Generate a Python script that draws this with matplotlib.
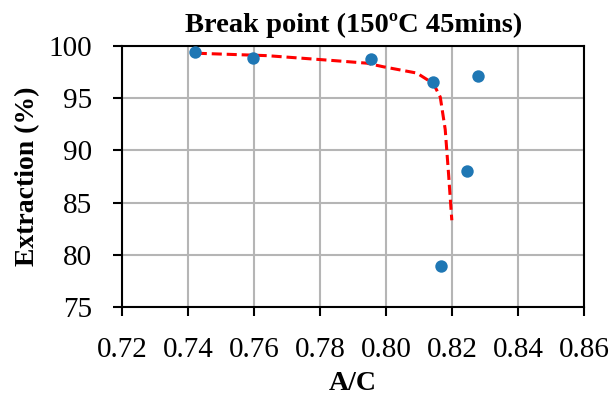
import matplotlib.pyplot as plt
import numpy as np

# measured points
ac = [0.742, 0.7595, 0.7954, 0.8141, 0.8278, 0.8244, 0.8165]
extraction = [99.4, 98.8, 98.75, 96.5, 97.1, 88.0, 78.9]

# trend (break point) curve
fit_x = [0.7426, 0.7639, 0.7840, 0.7941, 0.7992, 0.8093, 0.8143, 0.8164, 0.8179, 0.8189, 0.8199]
fit_y = [99.3, 99.07, 98.6, 98.35, 98.0, 97.4, 96.4, 95.1, 92.0, 87.8, 83.3]

plt.rcParams['font.family'] = ['Liberation Serif', 'DejaVu Serif']

fig, ax = plt.subplots(figsize=(6.11, 3.96), dpi=100)
fig.subplots_adjust(left=0.2, right=0.956, top=0.884, bottom=0.225)

ax.grid(True, color='#b5b5b5', linewidth=1.5)
ax.set_axisbelow(True)

ax.plot(fit_x, fit_y, color='red', linestyle=(0, (3.3, 1.6)), linewidth=2.2, zorder=2)
ax.scatter(ac, extraction, s=80, color='#1f77b4', zorder=3, linewidths=0)

ax.set_xlim(0.72, 0.86)
ax.set_ylim(75, 100)
ax.set_xticks(np.arange(0.72, 0.861, 0.02))
ax.set_yticks(np.arange(75, 101, 5))
ax.xaxis.set_major_formatter(plt.FormatStrFormatter('%.2f'))

ax.tick_params(direction='out', length=6.5, width=1.5, labelsize=21, color='black')
ax.tick_params(axis='x', pad=15)
ax.tick_params(axis='y', pad=15)
for sp in ax.spines.values():
    sp.set_linewidth(1.5)
    sp.set_color('black')

ax.set_title('Break point (150ºC 45mins)', fontsize=20.5, fontweight='bold', pad=10)
ax.set_xlabel('A/C', fontsize=20, fontweight='bold', labelpad=6)
ax.set_ylabel('Extraction (%)', fontsize=20, fontweight='bold', labelpad=6)

fig.savefig('out.png', dpi=100)
